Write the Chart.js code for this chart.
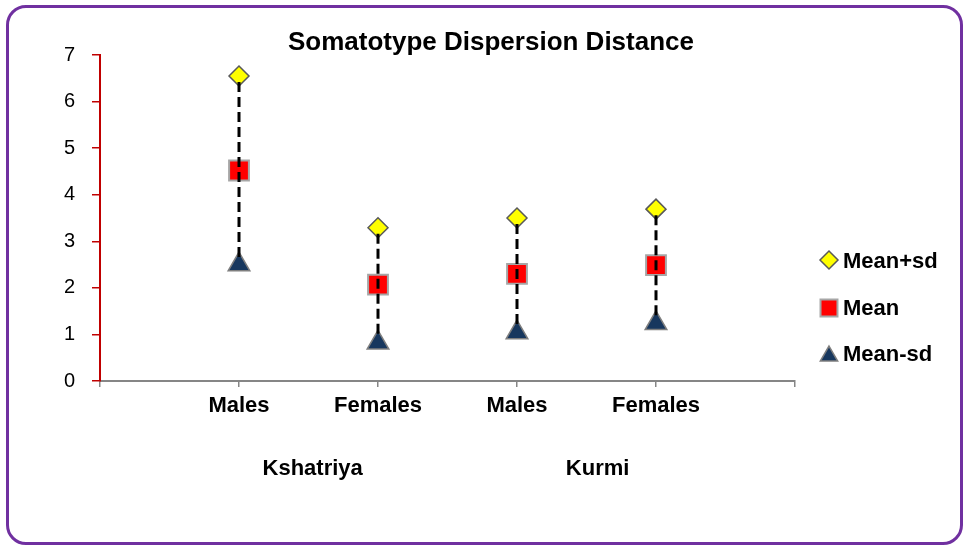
<!DOCTYPE html>
<html>
<head>
<meta charset="utf-8">
<script src="https://cdn.jsdelivr.net/npm/chart.js@4.4.1/dist/chart.umd.min.js"></script>
<style>
  html, body { margin: 0; padding: 0; background: #fff; overflow: hidden; }
  #wrap { position: relative; width: 963px; height: 546px; }
  #frame {
    position: absolute; left: 6px; top: 5px; width: 951px; height: 534px;
    border: 3px solid #7030a0; border-radius: 20px; pointer-events: none;
  }
  canvas { position: absolute; left: 0; top: 0; }
</style>
</head>
<body>
<div id="wrap">
  <canvas id="dispersion-chart" width="963" height="546"></canvas>
  <div id="frame"></div>
</div>
<script>
const chartTitle = "Somatotype Dispersion Distance";
const categories = ["Males", "Females", "Males", "Females"];
const groups = ["Kshatriya", "Kurmi"];
const meanPlusSd = [6.55, 3.29, 3.5, 3.69];
const mean = [4.52, 2.07, 2.3, 2.49];
const meanMinusSd = [2.5, 0.82, 1.04, 1.24];
const seriesNames = ["Mean+sd", "Mean", "Mean-sd"];
const yTicks = [0, 1, 2, 3, 4, 5, 6, 7];

const FONT = "'Liberation Sans', Arial, sans-serif";
const canvas = document.getElementById("dispersion-chart");

// points sit on x = 1..4, with empty slots at 0 and 5 like the excel axis
function toPoints(values) {
  return values.map((v, i) => ({ x: i + 1, y: v }));
}

// dashed high-low line from Mean+sd down to Mean-sd
const hiLowLines = {
  id: "hiLowLines",
  afterDatasetsDraw(chart) {
    const top = chart.getDatasetMeta(0).data;
    const bottom = chart.getDatasetMeta(2).data;
    const ctx = chart.ctx;
    ctx.save();
    ctx.strokeStyle = "#000";
    ctx.lineWidth = 3;
    ctx.setLineDash([10, 5]);
    top.forEach((p, i) => {
      ctx.beginPath();
      ctx.moveTo(p.x, p.y + 6);
      ctx.lineTo(bottom[i].x, bottom[i].y - 6);
      ctx.stroke();
    });
    ctx.restore();
  },
};

// title, group labels under the axis and the legend on the right
const extraText = {
  id: "extraText",
  afterDraw(chart) {
    const ctx = chart.ctx;
    const xScale = chart.scales.x;
    ctx.save();
    ctx.fillStyle = "#000";
    ctx.textAlign = "center";
    ctx.textBaseline = "middle";
    ctx.font = "bold 26px " + FONT;
    ctx.fillText(chartTitle, 491, 43);

    ctx.font = "bold 22px " + FONT;
    ctx.fillText(groups[0], xScale.getPixelForValue(1.53), 469);
    ctx.fillText(groups[1], xScale.getPixelForValue(3.58), 469);

    // legend
    const legendSizes = [9, 12, 10];
    const markerY = [260, 308, 356];
    ctx.textAlign = "left";
    chart.data.datasets.forEach((ds, i) => {
      ctx.fillStyle = ds.pointBackgroundColor;
      ctx.strokeStyle = ds.pointBorderColor;
      ctx.lineWidth = ds.pointBorderWidth;
      Chart.helpers.drawPoint(ctx, {
        pointStyle: ds.pointStyle,
        rotation: 0,
        radius: legendSizes[i],
        borderWidth: ds.pointBorderWidth,
      }, 829, markerY[i]);
      ctx.fillStyle = "#000";
      ctx.fillText(ds.label, 843, 262 + i * 46.5);
    });
    ctx.restore();
  },
};

new Chart(canvas, {
  type: "line",
  data: {
    datasets: [
      {
        label: seriesNames[0],
        data: toPoints(meanPlusSd),
        showLine: false,
        pointStyle: "rectRot",
        pointRadius: 10,
        pointHoverRadius: 10,
        pointBackgroundColor: "#ffff00",
        pointBorderColor: "#595959",
        pointBorderWidth: 1.5,
      },
      {
        label: seriesNames[1],
        data: toPoints(mean),
        showLine: false,
        pointStyle: "rect",
        pointRadius: 14,
        pointHoverRadius: 14,
        pointBackgroundColor: "#ff0000",
        pointBorderColor: "#a6a6a6",
        pointBorderWidth: 2,
      },
      {
        label: seriesNames[2],
        data: toPoints(meanMinusSd),
        showLine: false,
        pointStyle: "triangle",
        pointRadius: 12.5,
        pointHoverRadius: 12.5,
        pointBackgroundColor: "#17375e",
        pointBorderColor: "#7f7f7f",
        pointBorderWidth: 1.5,
      },
    ],
  },
  options: {
    responsive: false,
    animation: false,
    layout: { padding: { left: 0, right: 168, top: 55, bottom: 0 } },
    plugins: {
      legend: { display: false },
      title: { display: false },
      tooltip: { enabled: false },
    },
    scales: {
      x: {
        type: "linear",
        min: 0,
        max: 5,
        afterBuildTicks: (scale) => {
          scale.ticks = [0, 1, 2, 3, 4, 5].map((v) => ({ value: v }));
        },
        afterFit: (scale) => {
          scale.height = 165;
        },
        ticks: {
          autoSkip: false,
          maxRotation: 0,
          padding: 6,
          color: "#000",
          font: { family: FONT, size: 22, weight: "bold" },
          callback: (v) => categories[v - 1] || "",
        },
        grid: {
          drawOnChartArea: false,
          drawTicks: true,
          tickLength: 6,
          color: "#868686",
          lineWidth: 1.5,
        },
        border: { color: "#868686", width: 2 },
      },
      y: {
        min: 0,
        max: 7,
        afterBuildTicks: (scale) => {
          scale.ticks = yTicks.map((v) => ({ value: v }));
        },
        afterFit: (scale) => {
          scale.width = 100;
        },
        ticks: {
          padding: 17,
          color: "#000",
          font: { family: FONT, size: 20 },
        },
        grid: {
          drawOnChartArea: false,
          drawTicks: true,
          tickLength: 8,
          color: "#c00000",
          lineWidth: 1.5,
        },
        border: { color: "#c00000", width: 2 },
      },
    },
  },
  plugins: [hiLowLines, extraText],
});
</script>
</body>
</html>
